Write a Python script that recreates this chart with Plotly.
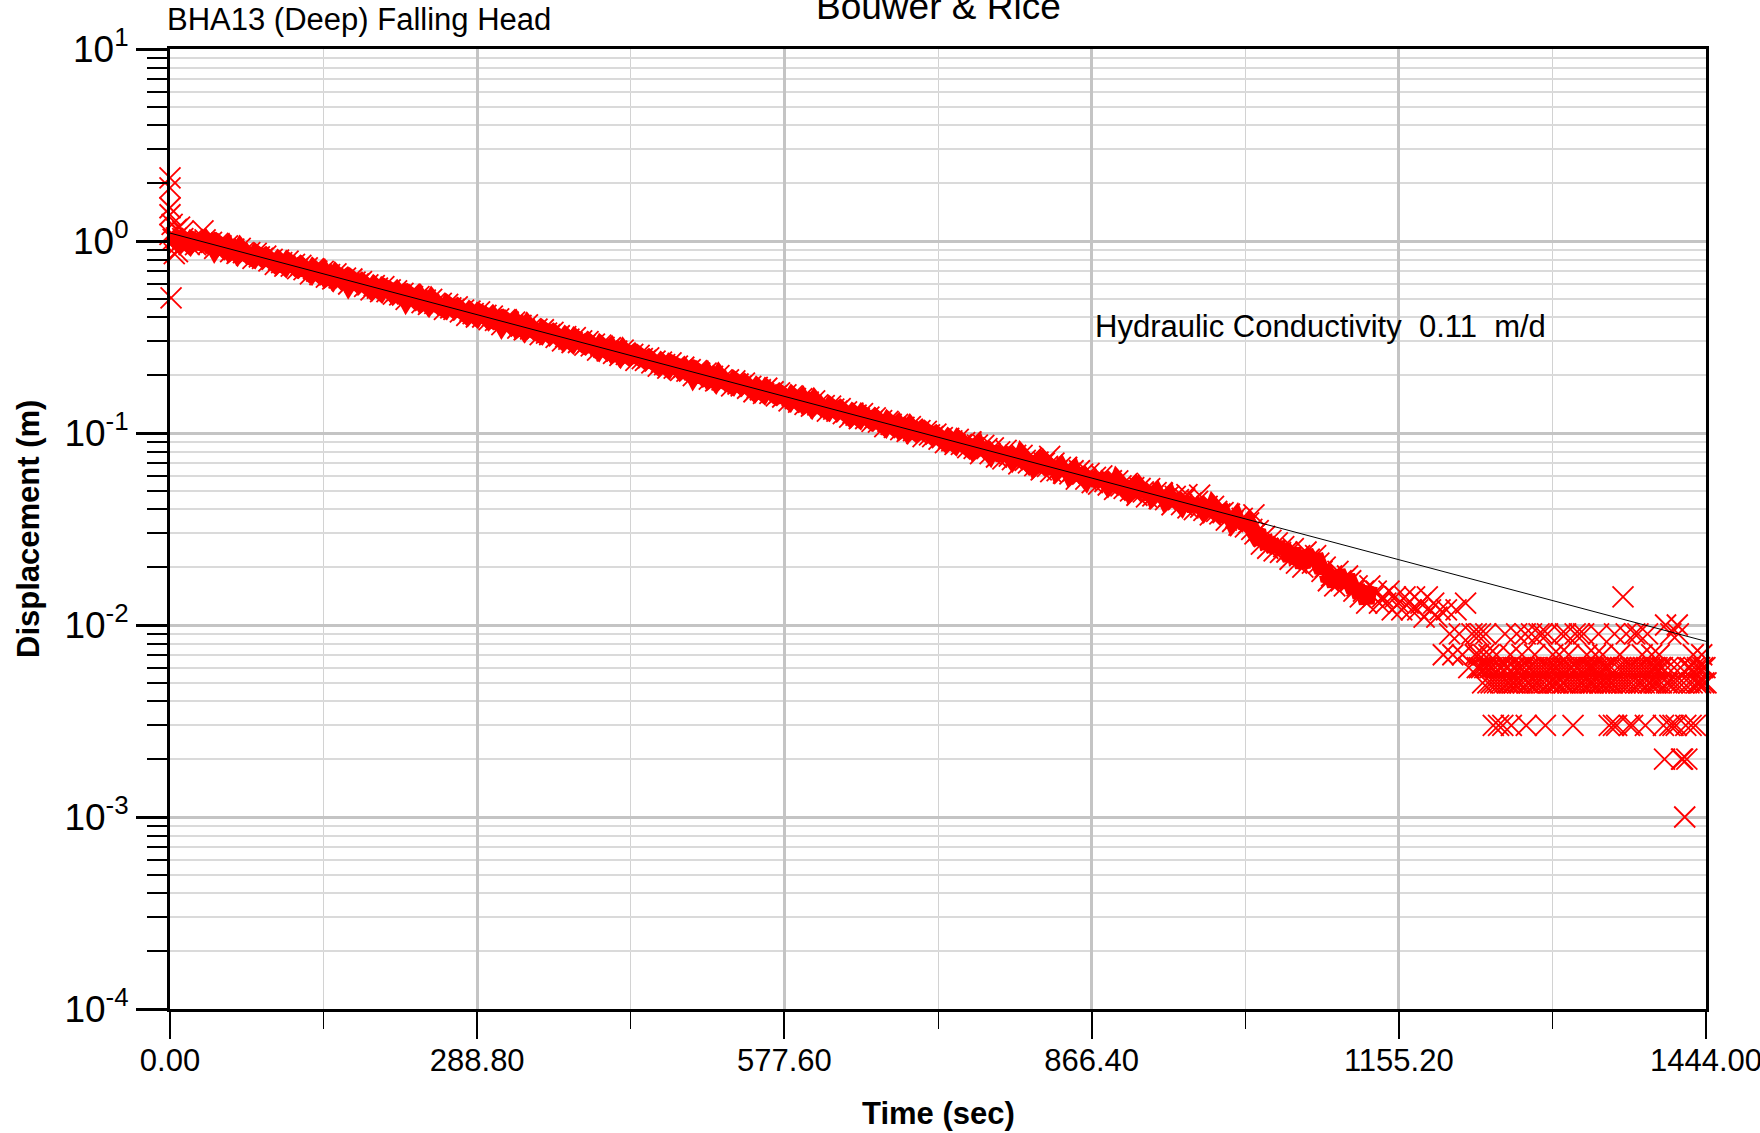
import numpy as np
import plotly.graph_objects as go

# ---------------- data (displacement readings in mm) ----------------
# logger readings every 3 s from t = 0 s to t = 1227 s
DECAY_STEP = 3
DECAY_MM = [
    1082, 1019, 1039, 978, 1028, 998, 958, 1017, 958, 977,
    974, 1013, 964, 983, 916, 973, 944, 907, 944, 880,
    906, 862, 915, 871, 845, 870, 811, 861, 827, 811,
    835, 787, 802, 755, 794, 771, 740, 785, 740, 755,
    718, 747, 710, 725, 675, 717, 696, 668, 695, 648,
    668, 635, 674, 642, 622, 641, 597, 634, 610, 598,
    615, 580, 591, 556, 585, 568, 545, 579, 545, 556,
    529, 550, 524, 534, 497, 528, 513, 493, 513, 478,
    492, 468, 497, 473, 459, 473, 440, 468, 449, 441,
    454, 427, 436, 410, 431, 419, 402, 427, 402, 410,
    390, 406, 386, 393, 367, 389, 378, 363, 378, 352,
    363, 345, 366, 349, 338, 348, 325, 345, 331, 325,
    334, 315, 321, 302, 318, 308, 296, 314, 296, 302,
    287, 299, 284, 290, 270, 287, 279, 268, 278, 260,
    267, 254, 270, 257, 249, 257, 239, 254, 244, 239,
    246, 232, 237, 223, 234, 227, 218, 232, 218, 223,
    212, 220, 210, 214, 199, 211, 205, 197, 205, 191,
    197, 187, 199, 189, 184, 189, 176, 187, 180, 176,
    182, 171, 175, 164, 173, 168, 161, 171, 161, 164,
    156, 162, 154, 158, 147, 156, 151, 145, 151, 141,
    145, 138, 147, 140, 135, 139, 130, 138, 133, 130,
    134, 126, 129, 121, 127, 124, 119, 126, 119, 121,
    115, 120, 114, 116, 108, 115, 111, 107, 111, 104,
    107, 102, 108, 103, 99.7, 103, 95.7, 102, 97.7, 95.8,
    98.6, 92.8, 94.7, 89.1, 93.7, 91.0, 87.3, 92.7, 87.3, 89.1,
    83.9, 89.9, 83.1, 86.4, 78.1, 86.3, 83.0, 78.1, 83.7, 75.0,
    79.7, 73.4, 81.1, 75.7, 72.7, 76.5, 69.1, 76.4, 72.0, 69.8,
    74.0, 67.7, 70.5, 64.3, 69.7, 67.0, 63.0, 69.6, 63.7, 66.3,
    61.8, 66.2, 61.2, 63.6, 57.5, 63.6, 61.1, 57.5, 61.7, 55.2,
    58.8, 54.2, 59.8, 55.9, 53.6, 56.4, 50.9, 56.3, 53.1, 51.5,
    54.6, 49.9, 52.0, 47.4, 51.4, 49.4, 46.5, 51.3, 47.0, 48.9,
    45.5, 48.7, 45.0, 46.9, 42.3, 46.8, 45.0, 42.4, 45.4, 40.7,
    43.2, 39.9, 44.0, 41.1, 39.5, 41.5, 37.5, 41.5, 39.1, 37.9,
    38.5, 35.2, 37.8, 34.6, 36.3, 33.1, 35.9, 32.4, 34.0, 31.5,
    29.8, 31.0, 26.4, 28.9, 25.1, 27.6, 24.3, 26.8, 23.9, 25.6,
    24, 22, 25, 21, 23, 20, 24, 22, 21, 23,
    21, 19, 20, 17, 18, 16, 19, 17, 16, 18,
    17, 15, 16, 14, 15, 13, 16, 14, 15, 13,
    14, 13, 15, 12, 14, 13, 12, 14, 13, 12,
    14, 12, 13, 11, 14, 12, 13, 11, 12, 7,
    12, 9, 7, 12, 9, 7, 13, 6, 9, 7,
]
# the continuous (dense) part of the record ends here
DENSE_END_T = 1130

# logger readings every 1 s from t = 1228 s to t = 1444 s
TAIL_START = 1228
TAIL_STEP = 1
TAIL_MM = [
    9, 6, 7, 6, 9, 6, 5, 7, 6, 9,
    6, 5, 7, 6, 5, 6, 3, 5, 6, 7,
    5, 3, 6, 5, 6, 3, 5, 9, 6, 5,
    6, 5, 7, 3, 5, 6, 5, 6, 9, 5,
    6, 5, 6, 7, 5, 6, 9, 3, 5, 6,
    5, 6, 9, 5, 6, 7, 5, 6, 5, 9,
    6, 5, 9, 6, 5, 3, 6, 9, 5, 6,
    5, 6, 7, 5, 6, 5, 6, 5, 7, 6,
    9, 5, 6, 5, 9, 6, 5, 7, 6, 5,
    6, 3, 5, 9, 6, 5, 6, 9, 5, 6,
    5, 9, 6, 5, 7, 6, 5, 6, 5, 6,
    5, 6, 7, 5, 6, 9, 5, 6, 5, 7,
    6, 5, 6, 5, 6, 3, 5, 6, 5, 3,
    9, 5, 3, 6, 5, 7, 6, 5, 14, 6,
    5, 9, 6, 5, 3, 6, 5, 3, 6, 9,
    5, 6, 9, 5, 6, 5, 7, 6, 5, 3,
    6, 9, 5, 6, 5, 7, 6, 5, 6, 5,
    6, 5, 7, 6, 5, 6, 3, 2, 10, 5,
    6, 5, 3, 9, 5, 3, 6, 5, 3, 10,
    9, 5, 6, 2, 2, 5, 1, 3, 2, 6,
    5, 6, 3, 5, 7, 6, 3, 5, 6, 5,
    6, 5, 7, 6, 5, 6, 5,
]

# first readings right after the slug (spiky start)
START_T = [0, 0, 0, 0, 1, 2, 6, 9, 12, 31, 4, 7]
START_MM = [2130, 1890, 1490, 1370, 506, 1220, 1150, 1180, 1120, 1130, 860, 880]

# isolated readings off the main band
EXTRA_T = [827, 956, 968, 1019]
EXTRA_MM = [75.5, 47.7, 47.5, 37.5]

# Bouwer & Rice straight-line fit (m)
FIT_T = [0.0, 1444.0]
FIT_M = [1.10, 0.00822]

X_TICKS = [0.0, 288.8, 577.6, 866.4, 1155.2, 1444.0]
X_LABELS = ["0.00", "288.80", "577.60", "866.40", "1155.20", "1444.00"]
X_MINOR = [144.4, 433.2, 722.0, 1010.8, 1299.6]
Y_TICKS = [1e-4, 1e-3, 1e-2, 1e-1, 1e0, 1e1]
Y_LABELS = ["10<sup>-4</sup>", "10<sup>-3</sup>", "10<sup>-2</sup>",
            "10<sup>-1</sup>", "10<sup>0</sup>", "10<sup>1</sup>"]
Y_MINOR = [k * d for d in [1e-4, 1e-3, 1e-2, 1e-1, 1e0] for k in range(2, 10)]

TITLE = "Bouwer & Rice"
SUBTITLE = "BHA13 (Deep) Falling Head"
RESULT = "Hydraulic Conductivity&nbsp;&nbsp;0.11&nbsp;&nbsp;m/d"
X_TITLE = "Time (sec)"
Y_TITLE = "Displacement (m)"

# ---------------- figure ----------------
FONT = "Liberation Sans, Arial, Helvetica, sans-serif"
RED = "#ff0000"

t_decay = np.arange(len(DECAY_MM)) * DECAY_STEP
d_decay = np.array(DECAY_MM, dtype=float) / 1000.0
t_tail = TAIL_START + np.arange(len(TAIL_MM)) * TAIL_STEP
t_all = np.concatenate([START_T, t_decay, EXTRA_T, t_tail]).astype(float)
d_all = np.concatenate([START_MM, DECAY_MM, EXTRA_MM, TAIL_MM]).astype(float) / 1000.0

dense = t_decay <= DENSE_END_T

fig = go.Figure()
# the densely logged readings merge into a solid band of crosses
fig.add_trace(go.Scatter(
    x=t_decay[dense], y=d_decay[dense], mode="lines",
    line=dict(color=RED, width=16),
    cliponaxis=False, hoverinfo="skip", showlegend=False,
))
fig.add_trace(go.Scatter(
    x=t_all, y=d_all, mode="markers",
    marker=dict(symbol="x-thin-open", size=21, color=RED,
                line=dict(width=1.8, color=RED)),
    cliponaxis=False, hoverinfo="skip", showlegend=False,
))
fig.add_trace(go.Scatter(
    x=FIT_T, y=FIT_M, mode="lines",
    line=dict(color="black", width=1),
    hoverinfo="skip", showlegend=False,
))

W, H = 1760, 1133
L, R, T, B = 170, 54, 49, 124
pw, ph = W - L - R, H - T - B


def px(xp):
    return (xp - L) / pw


def py(yp):
    return (H - B - yp) / ph


fig.update_layout(
    width=W, height=H,
    margin=dict(l=L, r=R, t=T, b=B, pad=0, autoexpand=False),
    paper_bgcolor="white", plot_bgcolor="white",
    font=dict(family=FONT, color="black"),
    showlegend=False,
    xaxis=dict(
        range=[0, 1444], tickmode="array", tickvals=X_TICKS, ticktext=X_LABELS,
        ticks="outside", ticklen=27, tickwidth=2, tickcolor="black",
        tickfont=dict(size=31, family=FONT), ticklabeloverflow="allow",
        ticklabelstandoff=-5, automargin=False,
        showline=True, linewidth=3, linecolor="black", mirror=True,
        showgrid=True, gridcolor="#c4c4c4", gridwidth=3, zeroline=False,
        minor=dict(tickmode="array", tickvals=X_MINOR, ticks="outside", ticklen=17,
                   tickwidth=1, tickcolor="black", showgrid=True,
                   gridcolor="#d2d2d2", gridwidth=1),
    ),
    yaxis=dict(
        type="log", range=[-4, 1], tickmode="array", tickvals=Y_TICKS, ticktext=Y_LABELS,
        ticks="outside", ticklen=31, tickwidth=3, tickcolor="black",
        tickfont=dict(size=37, family=FONT), automargin=False,
        showline=True, linewidth=3, linecolor="black", mirror=True,
        showgrid=True, gridcolor="#c4c4c4", gridwidth=3, zeroline=False,
        minor=dict(tickmode="array", tickvals=Y_MINOR, ticks="outside", ticklen=20,
                   tickwidth=1.5, tickcolor="black", showgrid=True,
                   gridcolor="#dadada", gridwidth=2),
    ),
    annotations=[
        dict(text=TITLE, x=0.5, y=py(6.4), xref="paper", yref="paper",
             xanchor="center", yanchor="middle", showarrow=False,
             font=dict(size=37, family=FONT)),
        dict(text=SUBTITLE, x=px(165), y=py(19.2), xref="paper", yref="paper",
             xanchor="left", yanchor="middle", showarrow=False,
             font=dict(size=31, family=FONT)),
        dict(text=RESULT, x=px(1093), y=py(326.8), xref="paper", yref="paper",
             xanchor="left", yanchor="middle", showarrow=False,
             font=dict(size=31, family=FONT)),
        dict(text="<b>" + X_TITLE + "</b>", x=0.5, y=py(1113.5), xref="paper", yref="paper",
             xanchor="center", yanchor="middle", showarrow=False,
             font=dict(size=31, family=FONT)),
        dict(text="<b>" + Y_TITLE + "</b>", x=px(28), y=py(529), xref="paper", yref="paper",
             xanchor="center", yanchor="middle", showarrow=False, textangle=-90,
             font=dict(size=31, family=FONT)),
    ],
)

fig.write_html("out.html", config={"displayModeBar": False},
               post_script="document.body.style.margin='0';")
